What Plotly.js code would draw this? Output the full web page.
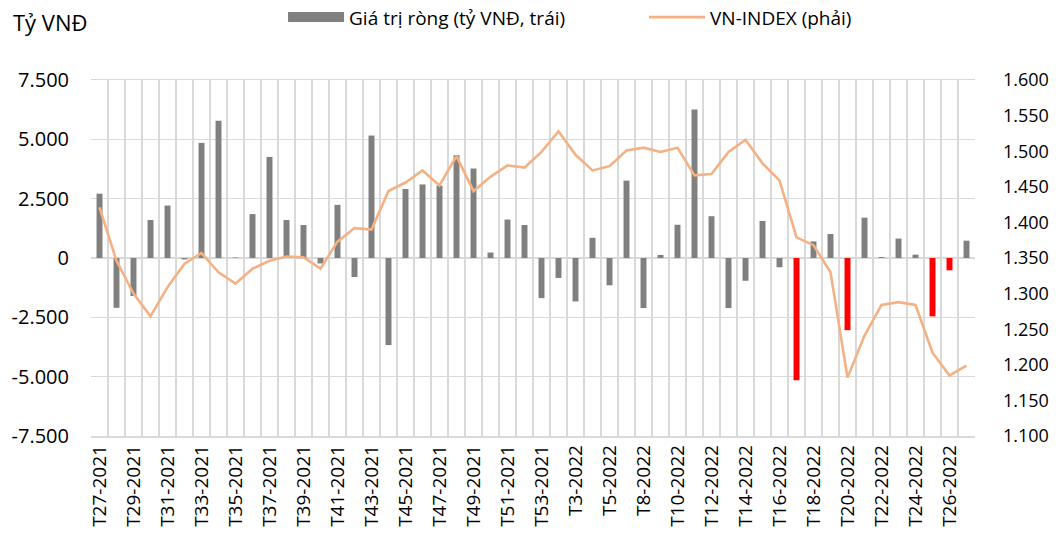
<!DOCTYPE html>
<html>
<head>
<meta charset="utf-8">
<script src="https://cdn.plot.ly/plotly-3.0.1.min.js"></script>
<style>html,body{margin:0;padding:0;background:#fff;}#chart{width:1064px;height:539px;}</style>
</head>
<body>
<div id="chart"></div>
<script>
const weeks = [
  "T27-2021","T28-2021","T29-2021","T30-2021","T31-2021","T32-2021","T33-2021","T34-2021","T35-2021","T36-2021",
  "T37-2021","T38-2021","T39-2021","T40-2021","T41-2021","T42-2021","T43-2021","T44-2021","T45-2021","T46-2021",
  "T47-2021","T48-2021","T49-2021","T50-2021","T51-2021","T52-2021","T53-2021",
  "T1-2022","T3-2022","T4-2022","T5-2022","T6-2022","T8-2022","T9-2022","T10-2022","T11-2022","T12-2022",
  "T13-2022","T14-2022","T15-2022","T16-2022","T17-2022","T18-2022","T19-2022","T20-2022","T21-2022","T22-2022",
  "T23-2022","T24-2022","T25-2022","T26-2022","T27-2022"
];
const netValue = [
  2710,-2100,-1600,1600,2210,-60,4850,5780,20,1850,
  4260,1600,1390,-230,2240,-800,5160,-3670,2910,3100,
  3050,4330,3770,230,1620,1390,-1690,
  -840,-1830,850,-1150,3260,-2110,130,1400,6260,1760,
  -2110,-960,1560,-390,-5150,700,1010,-3040,1700,40,
  820,140,-2460,-520,730
];
const vnIndex = [
  1421,1346,1300,1268,1309,1342,1357,1330,1314,1335,
  1346,1352,1351,1335,1373,1392,1390,1444,1456,1473,
  1452,1493,1444,1464,1480,1477,1499,
  1528,1495,1473,1479,1501,1505,1499,1505,1466,1468,
  1499,1516,1483,1459,1379,1368,1330,1182,1241,1284,
  1288,1284,1217,1185,1199
];
const highlightFrom = "T17-2022";
const leftTicks = [-7500,-5000,-2500,0,2500,5000,7500];
const leftTickText = ["-7.500","-5.000","-2.500","0","2.500","5.000","7.500"];
const rightTicks = [1100,1150,1200,1250,1300,1350,1400,1450,1500,1550,1600];
const rightTickText = ["1.100","1.150","1.200","1.250","1.300","1.350","1.400","1.450","1.500","1.550","1.600"];

const GRAY = "#808080", RED = "#ff0000", ORANGE = "#f4b183", GRID = "#d9d9d9";
const hiIdx = weeks.indexOf(highlightFrom);
const barColors = netValue.map((v, i) => (i >= hiIdx && v < 0) ? RED : GRAY);
const xText = weeks.map((w, i) => i % 2 === 0 ? w : "");

const FONT = "Open Sans, Noto Sans, sans-serif";
const BAR_NAME = "Giá trị ròng (tỷ VNĐ, trái)";

const data = [
  {
    type: "scatter", mode: "lines", name: BAR_NAME,
    x: [null], y: [null], line: {color: GRAY, width: 11},
    hoverinfo: "skip", yaxis: "y"
  },
  {
    type: "bar", name: BAR_NAME, showlegend: false,
    x: weeks, y: netValue, width: 0.35,
    marker: {color: barColors, line: {width: 0}},
    yaxis: "y"
  },
  {
    type: "scatter", mode: "lines", name: "VN-INDEX (phải)",
    x: weeks, y: vnIndex,
    line: {color: ORANGE, width: 2.6},
    yaxis: "y2"
  }
];

const layout = {
  width: 1064, height: 539,
  margin: {l: 91, r: 89, t: 80, b: 103},
  paper_bgcolor: "#fff", plot_bgcolor: "#fff",
  font: {family: FONT, color: "#000", size: 18},
  showlegend: true,
  legend: {
    orientation: "h", xref: "container", yref: "container",
    x: 0.266, y: 0.968, xanchor: "left", yanchor: "middle",
    font: {family: FONT, size: 19, color: "#000"},
    entrywidth: 290, itemwidth: 56, traceorder: "normal"
  },
  xaxis: {
    type: "category", categoryorder: "array", categoryarray: weeks,
    tickmode: "array", tickvals: weeks, ticktext: xText,
    tickson: "boundaries", ticks: "",
    tickangle: -90, tickfont: {family: FONT, size: 19, color: "#000"},
    showgrid: true, gridcolor: GRID, gridwidth: 1.5,
    showline: true, linecolor: GRID, linewidth: 1.5, mirror: true,
    range: [-0.5, weeks.length - 0.5], fixedrange: true
  },
  yaxis: {
    range: [-7500, 7500], tickmode: "array", tickvals: leftTicks, ticktext: leftTickText,
    tickfont: {family: FONT, size: 20, color: "#000"},
    showgrid: true, gridcolor: GRID, gridwidth: 1.5, zeroline: false,
    ticks: "", ticklabelstandoff: 21, fixedrange: true
  },
  yaxis2: {
    range: [1100, 1600], overlaying: "y", side: "right",
    tickmode: "array", tickvals: rightTicks, ticktext: rightTickText,
    tickfont: {family: FONT, size: 18, color: "#000"},
    showgrid: false, zeroline: false, ticks: "", ticklabelstandoff: 27, fixedrange: true
  },
  annotations: [{
    text: "Tỷ VNĐ", xref: "paper", yref: "paper",
    x: -0.09, y: 1.163, xanchor: "left", yanchor: "middle",
    showarrow: false, font: {family: FONT, size: 22, color: "#000"}
  }]
};

Plotly.newPlot("chart", data, layout, {displayModeBar: false, staticPlot: true});
</script>
</body>
</html>
